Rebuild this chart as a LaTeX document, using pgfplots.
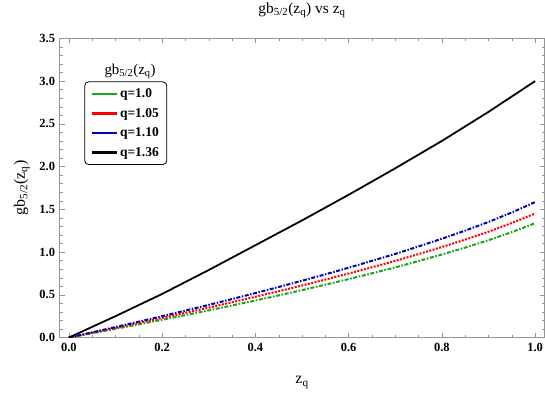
\documentclass[border=0pt]{standalone}
\usepackage{fontspec}
\setmainfont{Liberation Serif}
\usepackage{pgfplots}
\usetikzlibrary{calc}
\pgfplotsset{compat=1.18}
\definecolor{cgreen}{RGB}{30,165,30}
\definecolor{cred}{RGB}{255,0,0}
\definecolor{cblue}{RGB}{0,0,180}
\definecolor{frame}{RGB}{150,150,150}
\begin{document}
\begin{tikzpicture}
\begin{axis}[
  name=ax,
  scale only axis, width=484.6bp, height=299bp,
  xmin=-0.02, xmax=1.02, ymin=0, ymax=3.5,
  xtick={0,0.2,0.4,0.6,0.8,1.0},
  ytick={0,0.5,1.0,1.5,2.0,2.5,3.0,3.5},
  minor x tick num=3, minor y tick num=4,
  tick align=inside,
  axis line style={frame},
  every tick/.style={frame},
  major tick length=5bp, minor tick length=3bp,
  ticklabel style={font=\bfseries\fontsize{12.5}{14}\selectfont},
  xticklabel style={yshift=-2bp},
  yticklabel style={xshift=-1bp},
  /pgf/number format/.cd, fixed, fixed zerofill, precision=1, assume math mode=true,
  /pgfplots/.cd,
  title={gb\textsubscript{5/2}(z\textsubscript{q}) vs z\textsubscript{q}},
  title style={at={(axis description cs:0.5,1)}, anchor=base, yshift=19bp, font=\fontsize{15.5}{17}\selectfont},
  xlabel={z\textsubscript{q}},
  xlabel style={at={(axis description cs:0.5,0)}, anchor=base, yshift=-46bp, font=\fontsize{16}{18}\selectfont},
  ylabel={gb\textsubscript{5/2}(z\textsubscript{q})},
  ylabel style={at={(axis description cs:-0.078,0.5)}, anchor=center, font=\fontsize{16}{18}\selectfont},
  legend style={at={(rel axis cs:0.051,0.856)}, anchor=north west, draw=black, thick, rounded corners=4bp,
    font=\bfseries\fontsize{13.5}{15}\selectfont, row sep=5bp, inner xsep=6bp, inner ysep=5bp,
    /tikz/column 2/.style={column sep=4bp}},
  legend cell align=left,
  legend image code/.code={\draw[#1, solid, line width=2.4bp] (0bp,0bp) -- (25bp,0bp);},
]
\addplot[cgreen, line width=2bp, dash pattern=on 4bp off 1.6bp on 1.6bp off 1.6bp] coordinates {
(0,0) (0.05,0.0504) (0.1,0.1018) (0.15,0.1542) (0.2,0.2076) (0.25,0.2622) (0.3,0.3179) (0.35,0.3750)
(0.4,0.4334) (0.45,0.4933) (0.5,0.5549) (0.55,0.6184) (0.6,0.6837) (0.65,0.7515) (0.7,0.8204)
(0.75,0.8949) (0.8,0.9716) (0.85,1.0524) (0.9,1.1387) (0.95,1.2336) (0.98,1.2955) (1.0,1.338)};
\addlegendentry{q=1.0}
\addplot[cred, line width=2bp, dash pattern=on 2bp off 1.4bp] coordinates {
(0,0) (0.05,0.0559) (0.1,0.1127) (0.15,0.1705) (0.2,0.2294) (0.25,0.2895) (0.3,0.3505) (0.35,0.4129)
(0.4,0.4767) (0.45,0.5421) (0.5,0.6090) (0.55,0.6778) (0.6,0.7487) (0.65,0.8221) (0.7,0.8963)
(0.75,0.9763) (0.8,1.0590) (0.85,1.1458) (0.9,1.2383) (0.95,1.3400) (0.98,1.4063) (1.0,1.4517)};
\addlegendentry{q=1.05}
\addplot[cblue, line width=2bp, dash pattern=on 4bp off 1.6bp on 1.4bp off 1.6bp] coordinates {
(0,0) (0.05,0.0609) (0.1,0.1229) (0.15,0.1860) (0.2,0.2502) (0.25,0.3157) (0.3,0.3823) (0.35,0.4504)
(0.4,0.5201) (0.45,0.5915) (0.5,0.6645) (0.55,0.7396) (0.6,0.8170) (0.65,0.8973) (0.7,0.9783)
(0.75,1.0658) (0.8,1.1562) (0.85,1.2511) (0.9,1.3522) (0.95,1.4634) (0.98,1.5358) (1.0,1.5855)};
\addlegendentry{q=1.10}
\addplot[black, line width=1.8bp] coordinates {
(0,0) (0.1,0.25) (0.2,0.51) (0.3,0.79) (0.4,1.08) (0.5,1.37) (0.6,1.67) (0.7,1.98)
(0.8,2.30) (0.9,2.64) (1.0,3.0)};
\addlegendentry{q=1.36}
\end{axis}
\node[font=\fontsize{15}{17}\selectfont] at ($(ax.south west)!0.1455!(ax.south east) + (0,265.6bp)$) {gb\textsubscript{5/2}(z\textsubscript{q})};
\pgfresetboundingbox
\path ($(ax.south west)+(-59.5bp,-56.7bp)$) rectangle ($(ax.north east)+(0.5bp,38.3bp)$);
\end{tikzpicture}
\end{document}
